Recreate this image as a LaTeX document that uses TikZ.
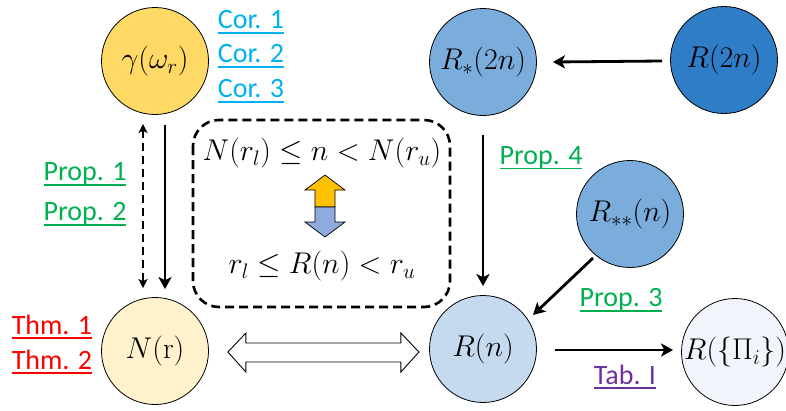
\RequirePackage{fix-cm}
\documentclass[tikz,border=0pt]{standalone}
\usepackage[no-math]{fontspec}
\setmainfont{Carlito}
\usetikzlibrary{arrows.meta,calc}

\definecolor{goldA}{HTML}{FFD966}
\definecolor{goldB}{HTML}{FFF2CC}
\definecolor{blueMid}{HTML}{7AACDC}
\definecolor{blueDark}{HTML}{2F7DC6}
\definecolor{blueLight}{HTML}{C6DAEF}
\definecolor{bluePale}{HTML}{F1F5FB}
\definecolor{linkCyan}{HTML}{00B0F0}
\definecolor{linkGreen}{HTML}{00B050}
\definecolor{linkRed}{HTML}{FF0000}
\definecolor{linkPurple}{HTML}{7030A0}
\definecolor{upGold}{HTML}{FFC000}
\definecolor{downBlue}{HTML}{8FAADC}

% underlined reference label
\newcommand\ulref[1]{\begingroup\setbox0\hbox{#1}\leavevmode\rlap{\copy0}\raisebox{-5pt}{\rule{\wd0}{1.8pt}}\endgroup}

\tikzset{
  qty/.style={circle, draw=black, line width=0.8pt, minimum size=107pt, inner sep=0pt,
              font=\fontsize{30}{35}\selectfont},
  ref/.style={inner sep=0pt, font=\fontsize{28}{33}\selectfont},
  conn/.style={line width=2.8pt, -{Stealth[length=12pt,width=13pt,inset=3pt]}},
  dconn/.style={line width=2.6pt, dash pattern=on 8pt off 5pt,
              {Stealth[length=9pt,width=9pt,inset=2pt]}-{Stealth[length=9pt,width=9pt,inset=2pt]}},
  relbox/.style={draw=black, line width=2.6pt, dash pattern=on 9pt off 5pt, rounded corners=26pt},
  eqn/.style={inner sep=0pt, font=\fontsize{30}{35}\selectfont}
}

\begin{document}
\begin{tikzpicture}[x=1pt,y=-1pt]
\useasboundingbox (0,0) rectangle (786,410);

% quantities
\node[qty, fill=goldA]     (gam)  at (155,61)  {$\gamma(\omega_r)$};
\node[qty, fill=goldB]     (Nr)   at (155,351) {$N(\mathrm{r})$};
\node[qty, fill=blueMid]   (Rs)   at (483,62)  {$R_*(2n)$};
\node[qty, fill=blueDark]  (R2n)  at (724,60)  {$R(2n)$};
\node[qty, fill=blueMid]   (Rss)  at (630,214) {$R_{**}(n)$};
\node[qty, fill=blueLight] (Rn)   at (483,349) {$R(n)$};
\node[qty, fill=bluePale]  (Rpi)  at (735,352) {$R(\{\Pi_i\})$};

% references
\node[ref, text=linkCyan]   (c1) at (251,22) {\ulref{Cor. 1}};
\node[ref, text=linkCyan]   (c2) at (251,56) {\ulref{Cor. 2}};
\node[ref, text=linkCyan]   (c3) at (251,91) {\ulref{Cor. 3}};
\node[ref, text=linkGreen]  (p1) at (85,174) {\ulref{Prop. 1}};
\node[ref, text=linkGreen]  (p2) at (85,214) {\ulref{Prop. 2}};
\node[ref, text=linkGreen]  (p4) at (541,158) {\ulref{Prop. 4}};
\node[ref, text=linkGreen]  (p3) at (621,300) {\ulref{Prop. 3}};
\node[ref, text=linkRed]    (t1) at (52,327) {\ulref{Thm. 1}};
\node[ref, text=linkRed]    (t2) at (52,362) {\ulref{Thm. 2}};
\node[ref, text=linkPurple] (tb) at (625,377) {\ulref{Tab. I}};

% equivalence box
\draw[relbox] (193,120) rectangle (450,307);
\node[eqn] (ineqN) at (322,153) {$N(r_l)\le n<N(r_u)$};
\node[eqn] (ineqR) at (322,266) {$r_l\le R(n)<r_u$};
\draw[fill=upGold, line width=0.7pt]
  (315,207) -- (315,190) -- (305,190) -- (325,175) -- (345,190) -- (335,190) -- (335,207) -- cycle;
\draw[fill=downBlue, line width=0.7pt]
  (315,207) -- (315,222) -- (305,222) -- (325,237) -- (345,222) -- (335,222) -- (335,207) -- cycle;

% connectors
\draw[dconn] ($(gam.south)+(-12,9)$) -- ($(Nr.north)+(-12,-9)$);
\draw[conn]  ($(gam.south)+(10,10)$) -- ($(Nr.north)+(10,-8)$);
\draw[conn]  ($(R2n.west)+(-8,1)$) -- ($(Rs.east)+(16,0)$);
\draw[conn]  ($(Rs.south)+(0,19)$) -- ($(Rn.north)+(0,-9)$);
\draw[conn]  ($(Rss.center)+(-37,44)$) -- ($(Rn.center)+(50,-34)$);
\draw[conn]  ($(Rn.east)+(18,1)$) -- ($(Rpi.west)+(-8,-2)$);

% two-way equivalence between N(r) and R(n)
\draw[line width=0.9pt, fill=white]
  ($(Nr.east)+(19,1)$) -- ++(18,-19) -- ++(0,10) -- ++(155,0) -- ++(0,-10)
  -- ++(18,19) -- ++(-18,20) -- ++(0,-10) -- ++(-155,0) -- ++(0,10) -- cycle;
\end{tikzpicture}
\end{document}
